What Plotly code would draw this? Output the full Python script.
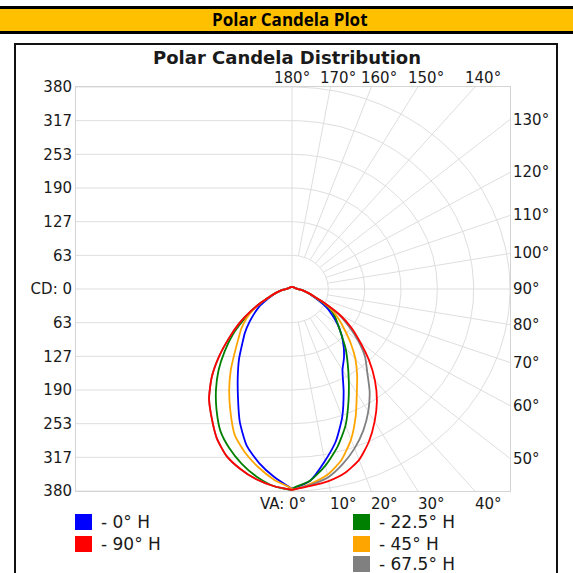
import numpy as np
import plotly.graph_objects as go

# ---------------- data ----------------
va_angles = [0, 5, 10, 15, 20, 25, 30, 35, 40, 45, 50, 55, 60, 65, 70, 75, 80, 85, 90, 100, 120, 150, 180]

cd_0h_right = [376, 362, 329, 296, 256, 213, 176, 158, 140, 122, 104, 86, 70, 52, 38, 29, 21, 15, 10, 7, 5, 4, 4]
cd_0h_left = [376, 355, 332, 305, 266, 223, 189, 161, 135, 116, 97, 80, 66, 50, 38, 29, 21, 15, 10, 7, 5, 4, 4]
cd_22h_right = [376, 362, 337, 307, 273, 233, 198, 169, 145, 122, 105, 92, 78, 58, 40, 30, 21, 15, 10, 7, 5, 4, 4]
cd_22h_left = [378, 372, 358, 340, 319, 295, 263, 231, 199, 166, 136, 105, 80, 57, 40, 30, 21, 15, 10, 7, 5, 4, 4]
cd_45h_right = [378, 368, 355, 333, 301, 263, 226, 198, 172, 145, 120, 100, 82, 60, 40, 30, 21, 15, 10, 7, 5, 4, 4]
cd_45h_left = [376, 360, 340, 318, 292, 254, 219, 186, 155, 132, 115, 97, 78, 57, 40, 30, 21, 15, 10, 7, 5, 4, 4]
cd_67h_right = [378, 370, 360, 341, 319, 294, 266, 236, 204, 180, 150, 120, 92, 63, 41, 30, 21, 15, 10, 7, 5, 4, 4]
cd_67h_left = [378, 372, 363, 350, 334, 310, 280, 252, 218, 180, 143, 112, 83, 58, 40, 30, 21, 15, 10, 7, 5, 4, 4]
cd_90h_right = [378, 372, 367, 358, 342, 317, 288, 258, 225, 190, 155, 126, 95, 63, 41, 30, 21, 15, 10, 7, 5, 4, 4]
cd_90h_left = [378, 372, 363, 350, 334, 310, 280, 252, 218, 180, 143, 112, 83, 58, 40, 30, 21, 15, 10, 7, 5, 4, 4]

series_names = ["- 0° H", "- 22.5° H", "- 45° H", "- 67.5° H", "- 90° H"]
series_colors = ["#0000FF", "#008000", "#FFA500", "#808080", "#FF0000"]
series_right = [cd_0h_right, cd_22h_right, cd_45h_right, cd_67h_right, cd_90h_right]
series_left = [cd_0h_left, cd_22h_left, cd_45h_left, cd_67h_left, cd_90h_left]

cd_tick_values = [380, 316.67, 253.33, 190, 126.67, 63.33, 0,
                  -63.33, -126.67, -190, -253.33, -316.67, -380]
cd_tick_text = ["380", "317", "253", "190", "127", "63", "CD: 0",
                "63", "127", "190", "253", "317", "380"]
ring_values = [63.33, 126.67, 190, 253.33, 316.67, 380]
spoke_angles = [10, 20, 30, 40, 50, 60, 70, 80, 100, 110, 120, 130, 140, 150, 160, 170]
bottom_angles = [0, 10, 20, 30, 40]
right_angles = [50, 60, 70, 80, 90, 100, 110, 120, 130]
top_angles = [140, 150, 160, 170, 180]
CD_MAX = 380

# ---------------- geometry helpers ----------------
W = H = 573
PL, PT, PW, PH = 76, 87, 434, 404


def pxx(px):
    return (px - PL) / PW


def pxy(py):
    return (PT + PH - py) / PH


GRID = "#DEDEDE"
fig = go.Figure()

# horizontal CD grid lines (left half)
gx, gy = [], []
for v in cd_tick_values:
    gx += [-CD_MAX * 1.1, CD_MAX * 1.1 if v == 0 else 0, None]
    gy += [v, v, None]
# vertical axis line
gx += [0, 0, None]
gy += [-CD_MAX, CD_MAX, None]
# rings (right half)
th = np.radians(np.arange(0, 181, 1))
for r in ring_values:
    gx += list(r * np.sin(th)) + [None]
    gy += list(-r * np.cos(th)) + [None]
# spokes
for a in spoke_angles:
    t = np.radians(a)
    r_end = CD_MAX / max(abs(np.sin(t)), abs(np.cos(t)))
    r0 = ring_values[0]
    gx += [r0 * np.sin(t), r_end * np.sin(t), None]
    gy += [-r0 * np.cos(t), -r_end * np.cos(t), None]
fig.add_trace(go.Scatter(x=gx, y=gy, mode="lines", line=dict(color=GRID, width=1),
                         hoverinfo="skip", showlegend=False))

# candela curves
va = np.radians(np.array(va_angles, dtype=float))
for name, col, rr, ll in zip(series_names, series_colors, series_right, series_left):
    rr = np.array(rr, dtype=float)
    ll = np.array(ll, dtype=float)
    xl = -ll * np.sin(va)
    yl = -ll * np.cos(va)
    xr = rr * np.sin(va)
    yr = -rr * np.cos(va)
    x = list(xl[::-1]) + list(xr)
    y = list(yl[::-1]) + list(yr)
    fig.add_trace(go.Scatter(x=x, y=y, mode="lines", name=name,
                             line=dict(color=col, width=1.8, shape="spline", smoothing=0.6),
                             showlegend=False))

TXT = "#1a1a1a"
FONT = "DejaVu Sans"
ann = []
# titles
ann.append(dict(x=pxx(290), y=pxy(19), xref="paper", yref="paper", text="<b>Polar Candela Plot</b>",
                showarrow=False, font=dict(family="Open Sans", size=17, color="#000"),
                xanchor="center", yanchor="middle"))
ann.append(dict(x=pxx(287), y=pxy(58), xref="paper", yref="paper", text="<b>Polar Candela Distribution</b>",
                showarrow=False, font=dict(family=FONT, size=18, color=TXT),
                xanchor="center", yanchor="middle"))

# angle labels
for a in bottom_angles:
    t = np.radians(a)
    x = CD_MAX * np.tan(t)
    if a == 0:
        ann.append(dict(x=x, y=-CD_MAX, xref="x", yref="y", text="VA: 0°", showarrow=False,
                        xanchor="right", yanchor="top", xshift=16, yshift=-2,
                        font=dict(family=FONT, size=15, color=TXT)))
    else:
        ann.append(dict(x=x, y=-CD_MAX, xref="x", yref="y", text=f"{a}°", showarrow=False,
                        xanchor="left", yanchor="top", xshift=-2, yshift=-2,
                        font=dict(family=FONT, size=15, color=TXT)))
for a in right_angles:
    t = np.radians(a)
    y = -CD_MAX * np.cos(t) / np.sin(t)
    ann.append(dict(x=CD_MAX, y=y, xref="x", yref="y", text=f"{a}°", showarrow=False,
                    xanchor="left", yanchor="middle", xshift=1,
                    font=dict(family=FONT, size=15, color=TXT)))
for a in top_angles:
    t = np.radians(180 - a)
    x = CD_MAX * np.tan(t)
    ann.append(dict(x=x, y=CD_MAX, xref="x", yref="y", text=f"{a}°", showarrow=False,
                    xanchor="center", yanchor="bottom", xshift=0 if a == 180 else 8, yshift=-2,
                    font=dict(family=FONT, size=15, color=TXT)))

shapes = []
# header band
shapes.append(dict(type="rect", xref="paper", yref="paper", x0=pxx(-5), x1=pxx(580),
                   y0=pxy(7.5), y1=pxy(32.5), fillcolor="#FFC000", line=dict(color="#000", width=3),
                   layer="below"))
# outer frame
shapes.append(dict(type="rect", xref="paper", yref="paper", x0=pxx(15), x1=pxx(557),
                   y0=pxy(640), y1=pxy(44), line=dict(color="#111", width=2), layer="below"))

# legend (manual)
legend_slots = {"- 0° H": (75, 522), "- 90° H": (75, 544),
                "- 22.5° H": (353, 522), "- 45° H": (353, 544), "- 67.5° H": (353, 564)}
for name, col in zip(series_names, series_colors):
    lx, ly = legend_slots[name]
    shapes.append(dict(type="rect", xref="paper", yref="paper", x0=pxx(lx), x1=pxx(lx + 17),
                       y0=pxy(ly + 8), y1=pxy(ly - 8), fillcolor=col, line=dict(width=0)))
    ann.append(dict(x=pxx(lx + 24), y=pxy(ly), xref="paper", yref="paper", text=name,
                    showarrow=False, xanchor="left", yanchor="middle",
                    font=dict(family=FONT, size=17, color=TXT)))

fig.update_layout(
    width=W, height=H,
    margin=dict(l=PL, r=W - PL - PW, t=PT, b=H - PT - PH),
    paper_bgcolor="white", plot_bgcolor="white",
    showlegend=False,
    annotations=ann, shapes=shapes,
    xaxis=dict(range=[-376.5, CD_MAX], showgrid=False, zeroline=False, showticklabels=False,
               showline=True, mirror=True, linecolor="#D4D4D4", linewidth=1, fixedrange=True),
    yaxis=dict(range=[-CD_MAX, CD_MAX], showgrid=False, zeroline=False,
               tickmode="array", tickvals=cd_tick_values, ticktext=cd_tick_text,
               tickfont=dict(family=FONT, size=15, color=TXT),
               showline=True, mirror=True, linecolor="#D4D4D4", linewidth=1, fixedrange=True),
)

fig.write_html("out.html", config={"displayModeBar": False},
               post_script="document.body.style.margin='0px';document.body.style.overflow='hidden';")
